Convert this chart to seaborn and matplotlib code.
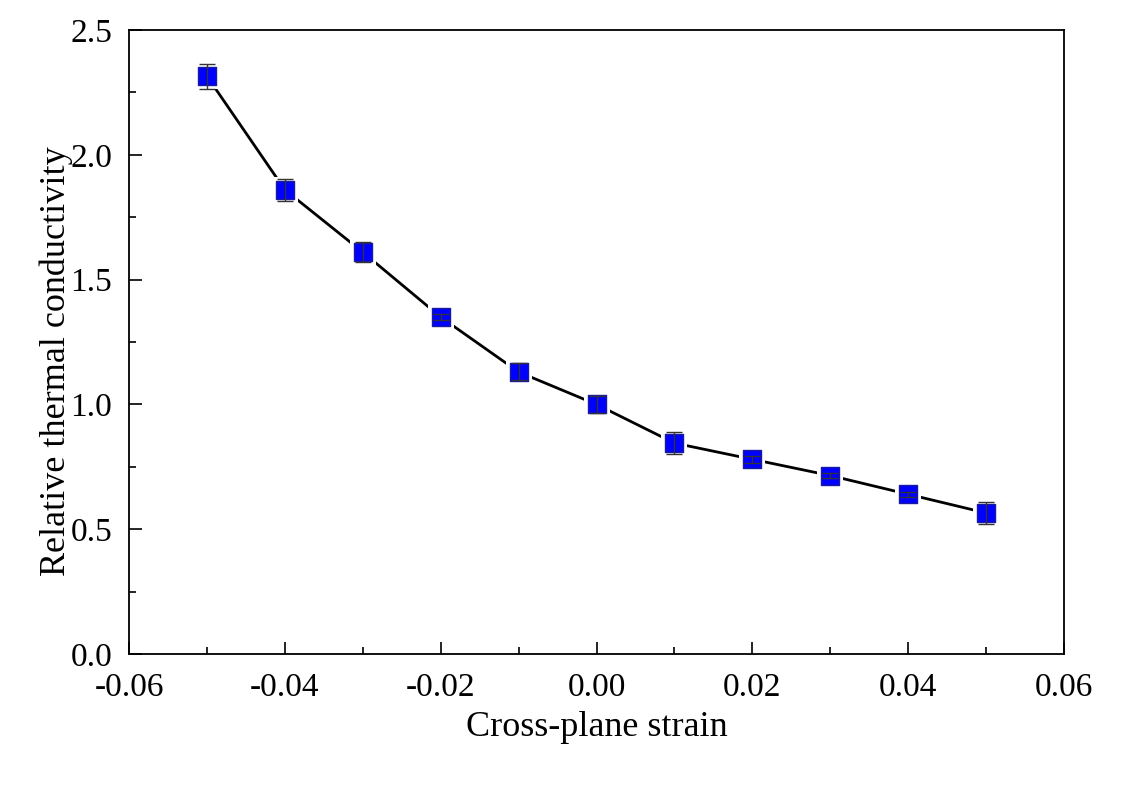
import numpy as np
import pandas as pd
import matplotlib
matplotlib.use("Agg")
import matplotlib.pyplot as plt
from matplotlib.ticker import MultipleLocator, FormatStrFormatter
import seaborn as sns

# Cross-plane strain vs. relative thermal conductivity
strain = [-0.05, -0.04, -0.03, -0.02, -0.01, 0.00, 0.01, 0.02, 0.03, 0.04, 0.05]
conductivity = [2.315, 1.86, 1.61, 1.35, 1.13, 1.00, 0.845, 0.78, 0.715, 0.64, 0.565]
error = [0.05, 0.045, 0.04, 0.012, 0.034, 0.035, 0.045, 0.015, 0.01, 0.01, 0.045]

df = pd.DataFrame({"strain": strain, "k": conductivity, "err": error})

sns.set_style("ticks")
plt.rcParams["font.family"] = ["Liberation Serif", "DejaVu Serif"]
plt.rcParams.update({"text.color": "black", "axes.labelcolor": "black",
                     "xtick.color": "black", "ytick.color": "black"})

fig = plt.figure(figsize=(11.30, 7.91), dpi=100)
ax = fig.add_axes([129 / 1130, 1 - 654 / 791, (1064 - 129) / 1130, (654 - 30) / 791])

# connecting line
sns.lineplot(data=df, x="strain", y="k", ax=ax, color="black", linewidth=2.0, zorder=2)
# white halo so the line stops short of each marker
sns.scatterplot(data=df, x="strain", y="k", ax=ax, marker="s", s=330,
                color="white", edgecolor="white", linewidth=0, zorder=3, legend=False)
sns.scatterplot(data=df, x="strain", y="k", ax=ax, marker="s", s=150,
                color="#0000ff", edgecolor="#1a1aa0", linewidth=1.0, zorder=4, legend=False)
ax.errorbar(df["strain"], df["k"], yerr=df["err"], fmt="none", ecolor="#333333",
            elinewidth=1.0, capsize=6, capthick=1.0, zorder=5)

ax.set_xlim(-0.06, 0.06)
ax.set_ylim(0.0, 2.5)
ax.xaxis.set_major_locator(MultipleLocator(0.02))
ax.xaxis.set_minor_locator(MultipleLocator(0.01))
ax.yaxis.set_major_locator(MultipleLocator(0.5))
ax.yaxis.set_minor_locator(MultipleLocator(0.25))
ax.xaxis.set_major_formatter(FormatStrFormatter("%.2f"))
ax.yaxis.set_major_formatter(FormatStrFormatter("%.1f"))

ax.tick_params(which="major", direction="in", length=9, width=1.2, labelsize=24)
ax.tick_params(axis="x", which="major", pad=13)
ax.tick_params(axis="y", which="major", pad=12)
ax.tick_params(which="minor", direction="in", length=5, width=1.2)
for s in ax.spines.values():
    s.set_linewidth(1.3)
    s.set_color("black")

ax.set_xlabel("Cross-plane strain", fontsize=26, labelpad=6)
ax.set_ylabel("Relative thermal conductivity", fontsize=26, labelpad=-2, y=0.47)

fig.savefig("out.png", dpi=100, facecolor="white")
